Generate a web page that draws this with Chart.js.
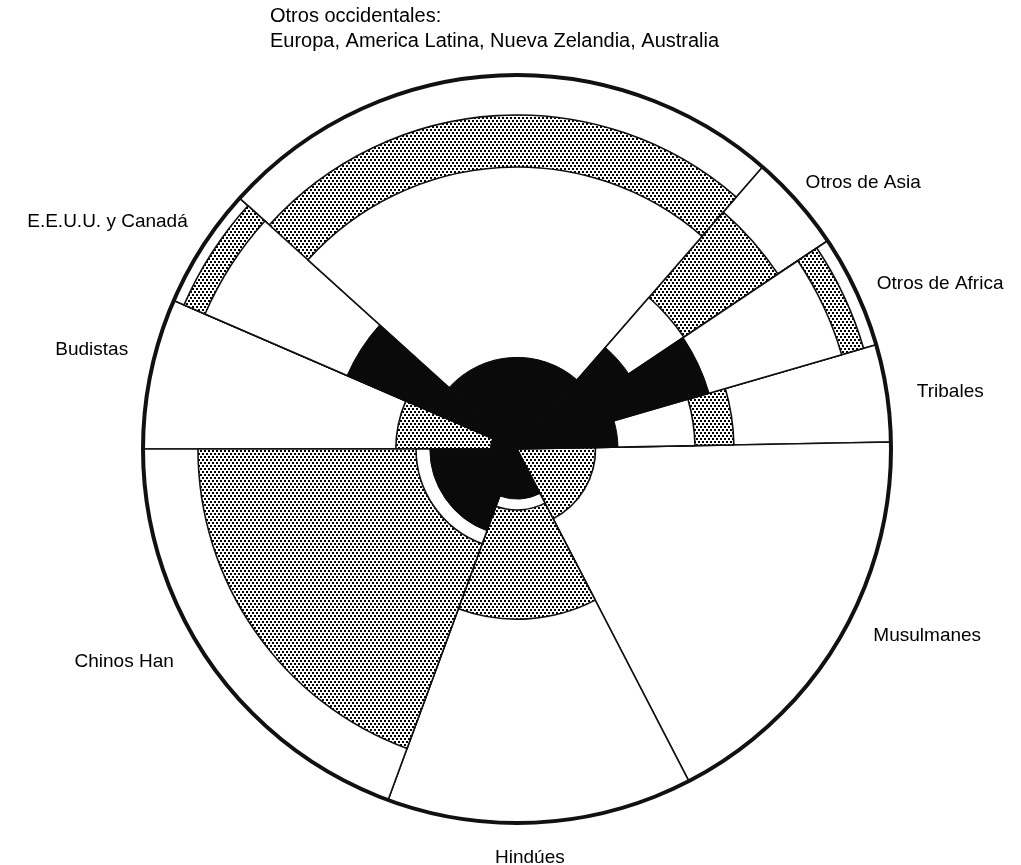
<!DOCTYPE html>
<html>
<head>
<meta charset="utf-8">
<script src="https://cdn.jsdelivr.net/npm/chart.js@4.4.1/dist/chart.umd.min.js"></script>
<style>
  html, body { margin: 0; padding: 0; background: #fff; }
  #wrap { width: 1021px; height: 865px; position: relative; }
</style>
</head>
<body>
<div id="wrap"><canvas id="chart"></canvas></div>
<script>
// groups, clockwise from the left horizontal line
const groups = ['Budistas', 'E.E.U.U. y Canadá', 'Otros occidentales:', 'Otros de Asia', 'Otros de Africa',
  'Tribales', 'Musulmanes', 'Hindúes', 'Chinos Han'];
const westDetail = 'Europa, America Latina, Nueva Zelandia, Australia';

// size of each sector (percent of the circle)
const shares = [6.5, 5.2, 24.7, 4.2, 4.9, 4.2, 17.7, 13.2, 19.4];

// radial values, percent of the full radius
const blackRadius = [7, 49.5, 24.5, 36, 53.5, 27, 0, 13.4, 23.3];
const bandInner = [7, 90.9, 75.4, 53.7, 90.4, 47.6, 0, 16.3, 27];
const bandOuter = [32.4, 97, 89.3, 84, 96.5, 58, 21, 45.5, 85.3];
const fullRadius = [100, 100, 100, 100, 100, 100, 100, 100, 100];

const total = shares.reduce((a, b) => a + b, 0);
const sectorAngles = shares.map(s => s / total * 360);

// where each name sits relative to its sector (turn in degrees, distance in radii)
const labelPlacement = [
  { turn: 2.6, dist: 1.073, align: 'right' },
  { turn: 1.8, dist: 1.069, align: 'right' },
  { turn: 0.2, dist: 1.068, align: 'block' },
  { turn: -1.3, dist: 1.05, align: 'left' },
  { turn: 0.3, dist: 1.059, align: 'left' },
  { turn: 0.5, dist: 1.08, align: 'left' },
  { turn: -3.1, dist: 1.076, align: 'left' },
  { turn: 1.8, dist: 1.094, align: 'center' },
  { turn: 3.1, dist: 1.08, align: 'right' }
];

function makeStipple() {
  const c = document.createElement('canvas');
  c.width = 8; c.height = 6;
  const g = c.getContext('2d');
  g.fillStyle = '#fff';
  g.fillRect(0, 0, 8, 6);
  g.fillStyle = '#000';
  [[0, 0], [4, 0], [2, 3], [6, 3]].forEach(([x, y]) => g.fillRect(x, y, 2, 2));
  return g.createPattern(c, 'repeat');
}
const stipple = makeStipple();

const edge = w => ctx => (ctx.raw > 0 ? w : 0);

const labelPlugin = {
  id: 'groupLabels',
  afterDraw(chart) {
    const ctx = chart.ctx;
    const arcs = chart.getDatasetMeta(3).data;
    const R = chart.scales.r.drawingArea;
    ctx.save();
    ctx.fillStyle = '#000';
    ctx.textBaseline = 'middle';
    arcs.forEach((arc, i) => {
      const p = labelPlacement[i];
      const a = (arc.startAngle + arc.endAngle) / 2 + p.turn * Math.PI / 180;
      const x = arc.x + Math.cos(a) * R * p.dist;
      const y = arc.y + Math.sin(a) * R * p.dist;
      if (p.align === 'block') {
        ctx.font = '20px "Liberation Sans", Arial, sans-serif';
        const lines = [groups[i], westDetail];
        const w = Math.max(...lines.map(l => ctx.measureText(l).width));
        ctx.textAlign = 'left';
        ctx.fillText(lines[0], x - w / 2, y - 34);
        ctx.fillText(lines[1], x - w / 2, y - 9);
      } else {
        ctx.font = '19px "Liberation Sans", Arial, sans-serif';
        ctx.textAlign = p.align;
        ctx.fillText(groups[i], x, y);
      }
    });
    ctx.restore();
  }
};

new Chart(document.getElementById('chart'), {
  type: 'polarArea',
  data: {
    labels: groups,
    datasets: [
      { data: blackRadius, angle: sectorAngles, backgroundColor: '#0a0a0a', borderColor: '#0a0a0a', borderWidth: edge(1) },
      { data: bandInner, angle: sectorAngles, backgroundColor: '#fff', borderColor: '#111', borderWidth: edge(1.6) },
      { data: bandOuter, angle: sectorAngles, backgroundColor: stipple, borderColor: '#111', borderWidth: edge(1.6) },
      { data: fullRadius, angle: sectorAngles, backgroundColor: '#fff', borderColor: '#111', borderWidth: edge(1.6) }
    ]
  },
  options: {
    responsive: true,
    maintainAspectRatio: false,
    animation: false,
    layout: { padding: { left: 143, top: 75, right: 130, bottom: 42 } },
    plugins: { legend: { display: false }, tooltip: { enabled: false } },
    scales: {
      r: {
        min: 0,
        max: 100,
        startAngle: 270,
        ticks: { display: false, stepSize: 100 },
        grid: { circular: true, color: '#111', lineWidth: 4, z: 1 },
        angleLines: { display: false },
        pointLabels: { display: false }
      }
    }
  },
  plugins: [labelPlugin]
});
</script>
</body>
</html>
